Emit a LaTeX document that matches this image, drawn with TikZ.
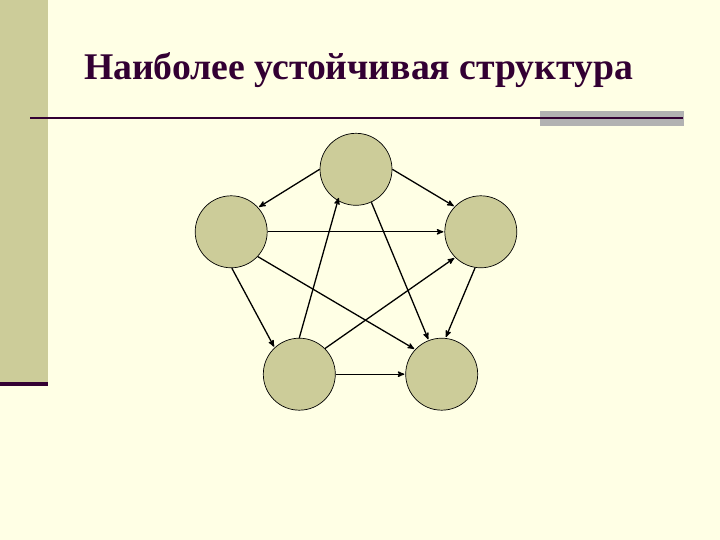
\documentclass[tikz,border=0pt]{standalone}
\usepackage{fontspec}
\setmainfont{Liberation Serif}
\usepackage{tikz}
\usetikzlibrary{
        arrows,
        positioning
    }
\definecolor{slidebg}{HTML}{FFFFE5}
\definecolor{slidebar}{HTML}{CCCC99}
\definecolor{slidedark}{HTML}{330033}
\definecolor{slidegray}{HTML}{B2B2B2}
\definecolor{vertexfill}{HTML}{CCCC99}
\tikzset{>={stealth'[scale=1.3]},shorten >=1pt,auto}
\tikzset{vertex/.style={circle,draw=black,line width=0.7pt,fill=vertexfill,minimum size=72pt,inner sep=0pt}}

\begin{document}
\begin{tikzpicture}[x=1pt,y=1pt,>={stealth'[scale=1.3]},shorten >=1pt,auto]
        		\useasboundingbox (0,0) rectangle (720,540);
        		% slide background
        		\fill[slidebg] (0,0) rectangle (720,540);
        		\fill[slidebar] (0,158) rectangle (48,540);
        		\fill[slidedark] (0,154) rectangle (48,158);
        		\fill[slidegray] (540,414.3) rectangle (684,429);
        		\draw[slidedark,line width=2pt] (30,422.3) -- (684,422.3);
        		\node[anchor=base west,text=slidedark,font=\fontsize{37.7}{42}\selectfont\bfseries] (title) at (80.5,460) {Наиболее устойчивая структура};

        			\node[vertex] (a1) at (356,370.7) {};
        			\node[vertex] (b1) at (231.2,308.2) {};
        			\node[vertex] (c1) at (480.8,308.2) {};
        			\node[vertex] (d1) at (299.3,165.8) {};
        			\node[vertex] (e1) [right=142.4pt of d1.center,anchor=center] {};
        		\path[->,line width=1.3pt]
        				(a1.180)  edge  (b1.42)
        				(a1.0)  edge  (c1.136)
        				(b1.0)  edge  (c1.180)
        				(b1.-43)  edge  (e1.137)
        				(b1.-89)  edge  (d1.133)
        				(d1.90)  edge[shorten >=-3pt]  (a1.240)
        				(a1.-65)  edge  (e1.111)
        				(d1.45)  edge  (c1.225)
        				(c1.261)  edge  (e1.84)
        				(d1.0)  edge  (e1.180)
        				;
        	\end{tikzpicture}
\end{document}
